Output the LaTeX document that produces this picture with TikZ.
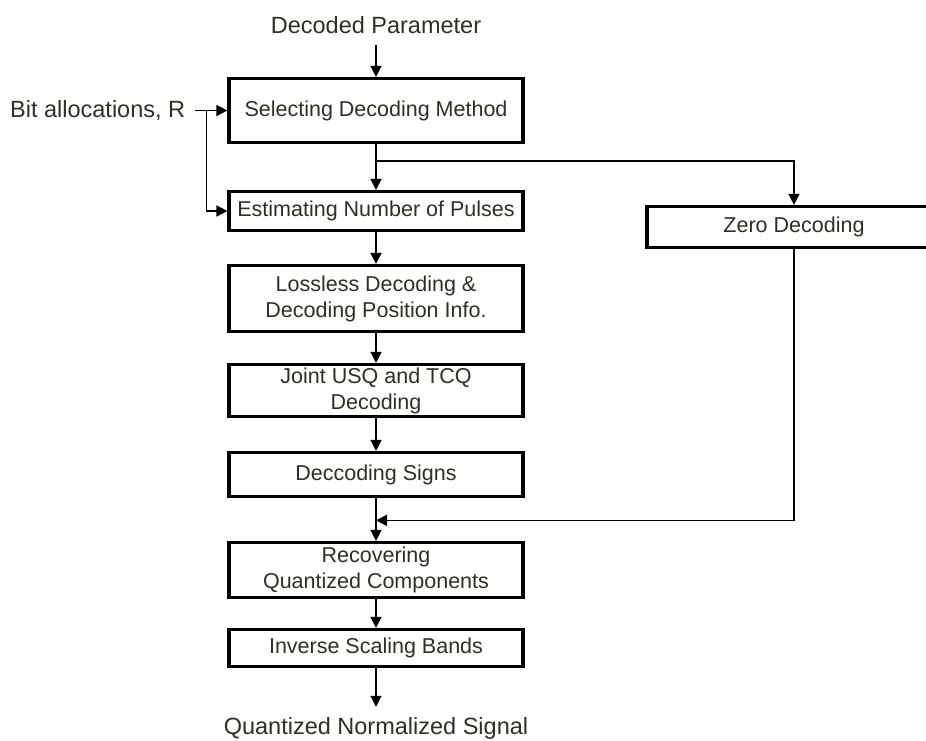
\documentclass[tikz,border=0pt]{standalone}
\usepackage{fontspec}
\setmainfont{Liberation Sans}
\usetikzlibrary{arrows.meta,positioning,calc}
\definecolor{txt}{HTML}{2F2F22}

\begin{document}
\begin{tikzpicture}[x=1pt,y=-1pt,line join=miter,
  box/.style={draw=black,line width=3.2pt,minimum width=294pt,inner sep=0pt,align=center,
    font=\fontsize{21.5}{26}\selectfont,text=txt},
  lbl/.style={inner sep=0pt,font=\fontsize{23.5}{28}\selectfont,text=txt},
  arr/.style={-{Triangle[length=11pt,width=11pt]},line width=1.6pt}]
  \useasboundingbox (0,0) rectangle (926,740);
  \clip (0,0) rectangle (926,740);
  \fill[white] (0,0) rectangle (926,740);

  % ===== main column =====
  \node[box,minimum height=64pt] (sel) at (376,110.5) {Selecting Decoding Method};
  \node[box,minimum height=39pt] (est) at (376,211) {Estimating Number of Pulses};
  \node[box,minimum height=66pt] (los) at (376,298.5) {Lossless Decoding \&\\Decoding Position Info.};
  \node[box,minimum height=52pt] (jnt) at (376,390.5) {Joint USQ and TCQ\\Decoding};
  \node[box,minimum height=44pt] (sig) at (376,474.5) {Deccoding Signs};
  \node[box,minimum height=55pt] (rec) at (376,570) {Recovering\\Quantized Components};
  \node[box,minimum height=37pt] (inv) at (376,648) {Inverse Scaling Bands};
  % zero branch (box runs off the right edge)
  \node[box,minimum height=41pt] (zero) at (794,227) {Zero Decoding};

  % ===== in/out labels =====
  \node[lbl] (dpar) at (376,25) {Decoded Parameter};
  \node[lbl,left=42pt of sel] (bits) {Bit allocations, R};
  \node[lbl] (qsig) at (376,728) {Quantized Normalized Signal};

  % ===== junctions =====
  \coordinate (brn) at ($(sel.south)!0.375!(est.north)$);   % split to zero decoding
  \coordinate (mrg) at ($(sig.south)!0.52!(rec.north)$);    % merge back
  \coordinate (bj) at ($(bits.east)!0.5!(sel.west)$);

  % ===== connectors =====
  \draw[arr,shorten <=11pt] (dpar) -- (sel);
  \draw[arr,shorten <=10pt] (bits) -- (sel);
  \draw[arr] (bj) |- (est.west);
  \draw[arr] (sel) -- (est);
  \draw[arr] (brn) -| (zero.north);
  \draw[arr] (est) -- (los);
  \draw[arr] (los) -- (jnt);
  \draw[arr] (jnt) -- (sig);
  \draw[arr] (sig) -- (rec);
  \draw[arr] (zero.south) |- (mrg);
  \draw[arr] (rec) -- (inv);
  \draw[arr,shorten >=10pt] (inv) -- (qsig);
\end{tikzpicture}
\end{document}
